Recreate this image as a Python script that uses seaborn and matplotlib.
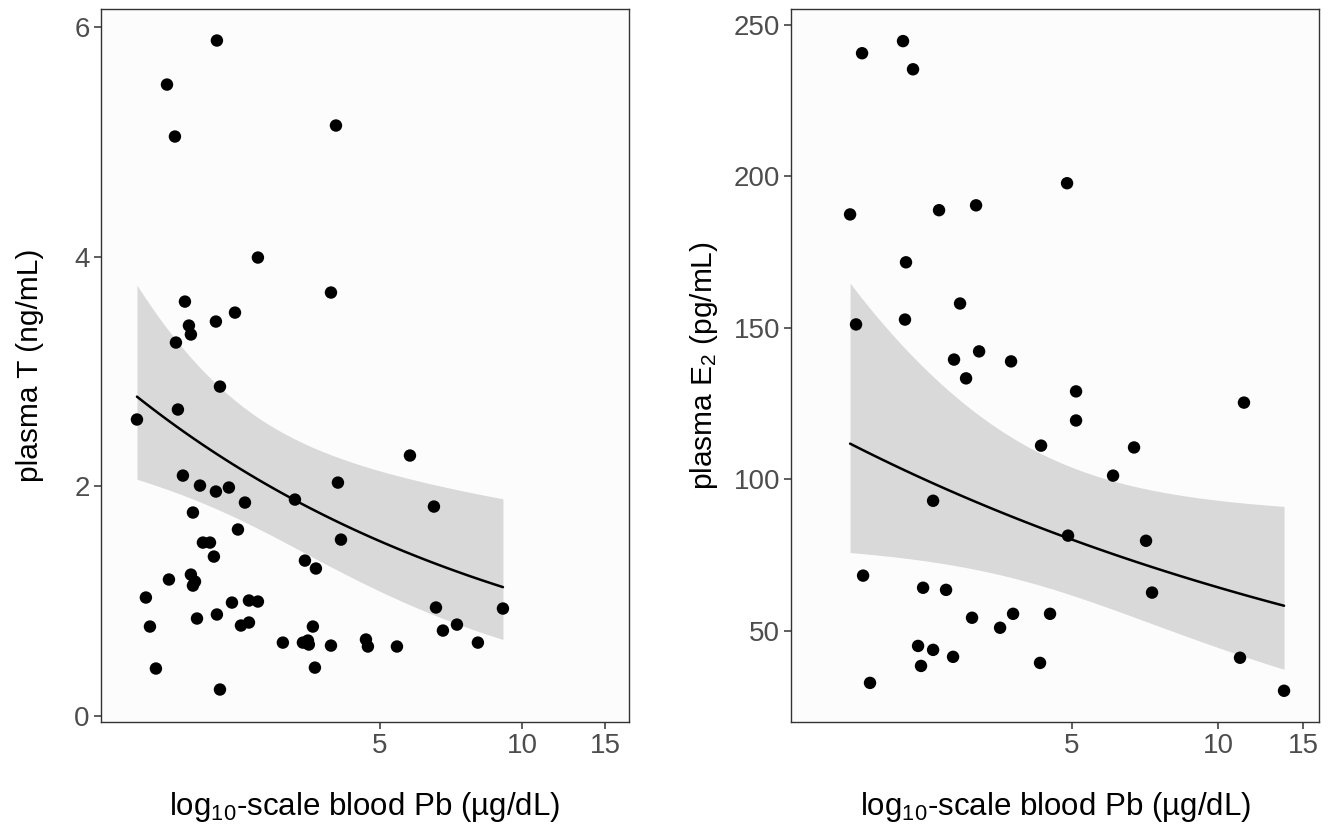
import numpy as np
import pandas as pd
import matplotlib
matplotlib.use("Agg")
import matplotlib.pyplot as plt
import seaborn as sns

# blood Pb (ug/dL) vs plasma T (ng/mL)
t_pb = [2.256, 1.768, 1.838, 4.034, 2.756, 3.937, 1.930, 2.464, 2.245, 1.968,
        1.987, 1.847, 2.290, 1.865, 1.527, 1.911, 2.077, 2.245, 2.392, 2.587,
        3.302, 4.073, 2.007, 2.500, 4.134, 2.107, 2.181, 2.223, 3.467, 3.658,
        1.785, 1.987, 2.027, 2.007, 1.595, 2.428, 2.638, 2.756, 1.627, 2.047,
        2.256, 2.537, 2.638, 3.604, 3.113, 3.433, 3.518, 3.534, 3.937, 4.670,
        4.715, 1.675, 3.640, 2.290, 5.789, 6.508, 6.573, 9.115, 6.800, 7.282,
        8.066, 5.433]
t_val = [5.885, 5.501, 5.048, 5.144, 3.993, 3.688, 3.609, 3.513, 3.435, 3.400,
         3.322, 3.252, 2.868, 2.668, 2.581, 2.092, 2.005, 1.953, 1.988, 1.857,
         1.883, 2.031, 1.770, 1.622, 1.534, 1.508, 1.508, 1.386, 1.351, 1.282,
         1.186, 1.229, 1.168, 1.133, 1.029, 0.985, 1.003, 0.994, 0.776, 0.846,
         0.881, 0.785, 0.811, 0.776, 0.636, 0.636, 0.654, 0.619, 0.610, 0.663,
         0.602, 0.410, 0.418, 0.227, 2.267, 1.822, 0.942, 0.933, 0.741, 0.793,
         0.636, 0.602]

# blood Pb (ug/dL) vs plasma E2 (pg/mL)
e2_pb = [1.845, 2.241, 2.350, 1.743, 2.659, 3.170, 2.273, 2.938, 1.793, 2.262,
         2.855, 3.216, 3.743, 3.023, 4.316, 2.585, 1.854, 2.465, 2.749, 3.110,
         3.553, 3.779, 4.504, 2.407, 2.585, 2.842, 2.441, 4.295, 1.916, 5.096,
         5.096, 11.31, 6.711, 6.075, 4.906, 7.104, 7.310, 11.10, 13.68, 4.883]
e2_val = [240.6, 244.6, 235.3, 187.4, 188.8, 190.4, 171.6, 158.0, 151.1, 152.7,
          139.5, 142.2, 138.9, 133.3, 111.1, 92.9, 68.2, 64.2, 63.5, 54.3,
          51.0, 55.6, 55.6, 45.0, 43.7, 41.4, 38.4, 39.4, 32.8, 129.0,
          119.4, 125.3, 110.5, 101.2, 81.4, 79.7, 62.6, 41.1, 30.2, 197.7]

# fitted log-link model as drawn (estimated from the curve and its band):
# log(mean) = b0 + b1*log10(Pb); se = sqrt(s0^2 + s1^2*(log10(Pb) - c)^2)
t_coef = [1.238, -1.172]
t_se = [0.118, 0.434, 0.408]
e2_coef = [4.892, -0.728]
e2_se = [0.131, 0.374, 0.638]

x_ticks = [5, 10, 15]


def model_curve(xs, coef, se_par, n=120):
    lx = np.linspace(np.log10(min(xs)), np.log10(max(xs)), n)
    eta = coef[0] + coef[1] * lx
    se = np.sqrt(se_par[0] ** 2 + se_par[1] ** 2 * (lx - se_par[2]) ** 2)
    return pd.DataFrame({"x": 10 ** lx, "fit": np.exp(eta),
                         "lo": np.exp(eta - 1.96 * se), "hi": np.exp(eta + 1.96 * se)})


sns.set_style("ticks")
plt.rcParams["font.family"] = ["Liberation Sans", "DejaVu Sans"]
plt.rcParams["mathtext.fontset"] = "custom"
plt.rcParams["mathtext.rm"] = "Liberation Sans"
plt.rcParams["mathtext.it"] = "Liberation Sans:italic"

fig = plt.figure(figsize=(13.41, 8.24), dpi=100)
ax1 = fig.add_axes([0.0753, 0.1238, 0.3937, 0.8653])
ax2 = fig.add_axes([0.5899, 0.1238, 0.3937, 0.8653])

panels = [
    (ax1, t_pb, t_val, t_coef, t_se, "plasma T (ng/mL)", [0, 2, 4, 6],
     (1.281, 16.86), (-0.056, 6.16), -0.108),
    (ax2, e2_pb, e2_val, e2_coef, e2_se, "plasma E$_\\mathregular{2}$ (pg/mL)",
     [50, 100, 150, 200, 250], (1.317, 16.15), (19.9, 255.2), -0.134),
]

for ax, xs, ys, coef, se_par, ylab, yticks, xlim, ylim, ylab_x in panels:
    df = pd.DataFrame({"pb": xs, "val": ys})
    fit = model_curve(xs, coef, se_par)
    ax.set_facecolor("#FCFCFC")
    ax.fill_between(fit["x"], fit["lo"], fit["hi"], color="#D9D9D9", lw=0, zorder=1)
    sns.lineplot(data=fit, x="x", y="fit", ax=ax, color="black", lw=1.8, zorder=2)
    sns.scatterplot(data=df, x="pb", y="val", ax=ax, color="black", s=80,
                    edgecolor="none", zorder=3)
    ax.set_xscale("log")
    ax.set_xlim(*xlim)
    ax.set_ylim(*ylim)
    ax.set_xticks(x_ticks)
    ax.set_xticklabels([str(v) for v in x_ticks])
    ax.xaxis.set_minor_locator(matplotlib.ticker.NullLocator())
    ax.set_yticks(yticks)
    ax.tick_params(axis="both", which="major", labelsize=20, labelcolor="#4D4D4D",
                   color="#333333", length=5, width=1.1, pad=3)
    for sp in ax.spines.values():
        sp.set_visible(True)
        sp.set_color("#333333")
        sp.set_linewidth(1.0)
    ax.set_xlabel("log$_\\mathregular{10}$-scale blood Pb (µg/dL)", fontsize=22.5,
                  color="black", labelpad=22)
    ax.set_ylabel(ylab, fontsize=21.5, color="black")
    ax.yaxis.set_label_coords(ylab_x, 0.5)

fig.savefig("out.png", dpi=100, facecolor="white")
